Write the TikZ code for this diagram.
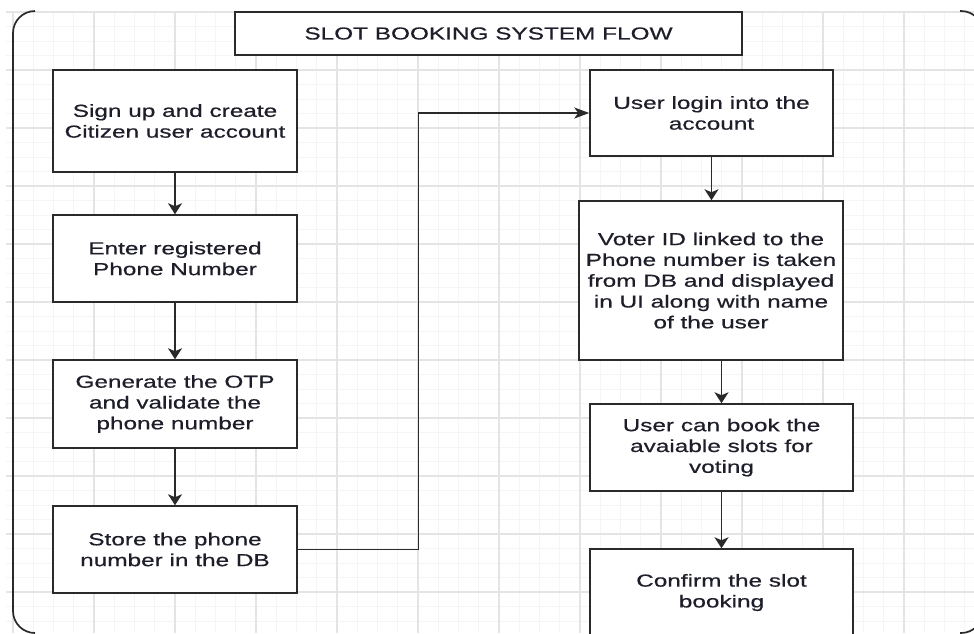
\documentclass[tikz,border=0pt]{standalone}
\usepackage{fontspec}
\setmainfont[FakeStretch=1.4,FakeBold=0.5]{Liberation Sans}
\usetikzlibrary{arrows.meta}

\definecolor{gridmajor}{HTML}{E4E4E4}
\definecolor{gridminor}{HTML}{F5F5F5}
\definecolor{boxline}{HTML}{2A2A2A}
\definecolor{txt}{HTML}{1E1E2A}
\newcommand\boxfont{\fontsize{17.4}{20.8}\selectfont}

\tikzset{
  box/.style={draw=boxline, line width=1.5pt, fill=white, align=center,
              inner sep=0pt, font=\boxfont, text=txt},
  varrow/.style={draw=boxline, line width=1.6pt,
                 -{Stealth[length=11pt,width=14pt,inset=3pt]}},
  harrow/.style={draw=boxline, line width=1.4pt,
                 -{Stealth[length=15pt,width=11pt,inset=4pt]}},
  framel/.style={draw=boxline, line width=1.7pt, rounded corners=22pt},
}

\begin{document}
\begin{tikzpicture}[x=1pt,y=-1pt]
\useasboundingbox (0,0) rectangle (974,633);
\clip (0,0) rectangle (974,633);
\fill[white] (0,0) rectangle (974,633);

% canvas grid: faint minor lines, stronger major lines every fourth
\foreach \i in {0,...,43}
  \draw[gridminor, line width=1pt] (6,{12+14.5*\i}) -- (974,{12+14.5*\i});
\foreach \i in {0,...,47}
  \draw[gridminor, line width=1.2pt] ({13+20.25*\i},11) -- ({13+20.25*\i},633);
\foreach \i in {0,...,10}
  \draw[gridmajor, line width=1.2pt] (6,{12+58*\i}) -- (974,{12+58*\i});
\foreach \i in {0,...,11}
  \draw[gridmajor, line width=1.5pt] ({13+81*\i},11) -- ({13+81*\i},633);

% outer frame (left side and corners)
\draw[framel] (35,11) -- (13,11) -- (13,633) -- (35,633);
\draw[framel] (960,11) -- (983,11) -- (983,40);
\draw[framel] (983,600) -- (983,633) -- (960,633);

% title
\node[box, minimum width=507pt, minimum height=43pt] (title) at (488.5,33.5)
  {SLOT BOOKING SYSTEM FLOW};

% left column
\node[box, minimum width=244pt, minimum height=102pt] (signup) at (175,121)
  {Sign up and create\\Citizen user account};
\node[box, minimum width=244pt, minimum height=87pt] (phone) at (175,258.5)
  {Enter registered\\Phone Number};
\node[box, minimum width=244pt, minimum height=88pt] (otp) at (175,404)
  {Generate the OTP\\and validate the\\phone number};
\node[box, minimum width=244pt, minimum height=87pt] (store) at (175,549.5)
  {Store the phone\\number in the DB};

% right column
\node[box, minimum width=243pt, minimum height=86pt] (login) at (711.5,113)
  {User login into the\\account};
\node[box, minimum width=264pt, minimum height=159pt] (voter) at (711,280.5)
  {Voter ID linked to the\\Phone number is taken\\from DB and displayed\\in UI along with name\\of the user};
\node[box, minimum width=263pt, minimum height=87pt] (book) at (721.5,447.5)
  {User can book the\\avaiable slots for\\voting};
\node[box, minimum width=263pt, minimum height=87pt] (confirm) at (721.5,592.5)
  {Confirm the slot\\booking};

% connectors
\draw[varrow] (signup.south) -- (phone.north);
\draw[varrow] (phone.south) -- (otp.north);
\draw[varrow] (otp.south) -- (store.north);
\draw[harrow] (store.east) -- ++(121,0) |- (login.west);
\draw[varrow] (login.south) -- (login.south |- voter.north);
\draw[varrow] (book.north |- voter.south) -- (book.north);
\draw[varrow] (book.south) -- (confirm.north);
\end{tikzpicture}
\end{document}
